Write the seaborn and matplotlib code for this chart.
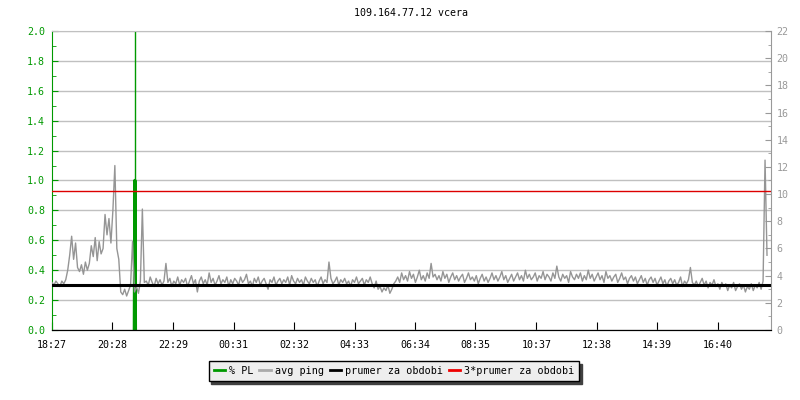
import numpy as np
import pandas as pd
import matplotlib
matplotlib.use("Agg")
import matplotlib.pyplot as plt
from matplotlib.ticker import MultipleLocator, FormatStrFormatter
import seaborn as sns

# ---- data ----
title = "109.164.77.12 vcera"
tick_minutes = [0, 121, 242, 364, 485, 606, 727, 848, 970, 1091, 1212, 1333]
tick_labels = ["18:27", "20:28", "22:29", "00:31", "02:32", "04:33",
               "06:34", "08:35", "10:37", "12:38", "14:39", "16:40"]

# avg ping [ms], evenly sampled over the day (right axis)
ping_ms = [
    3.5, 3.3, 3.6, 3.4, 3.2, 3.6, 3.4, 3.7,
    4.4, 5.5, 6.9, 5.2, 6.4, 4.6,
    4.3, 4.8, 4.1, 5.0, 4.4, 4.9,
    6.2, 5.4, 6.8, 5.1, 6.5, 5.6, 6.0,
    8.5, 7.0, 8.2, 6.4,
    8.8, 12.1, 6.0,
    5.2, 2.8,
    2.6, 3.0, 2.5, 2.9, 3.3, 6.5,
    2.8, 3.2, 2.7, 3.6, 8.9, 3.5,
    3.6, 3.3, 3.9, 3.5, 3.2, 3.8, 3.4, 3.7, 3.3, 3.6,
    4.9, 3.5, 3.8, 3.2, 3.6, 3.4, 3.9, 3.3, 3.7, 3.5,
    3.8, 3.2, 3.6, 4.0, 3.4, 3.7, 2.8, 3.6, 3.9, 3.4,
    3.7, 3.3, 4.2, 3.5, 3.8, 3.3, 3.6, 4.0, 3.4, 3.7,
    3.5, 3.9, 3.2, 3.7, 3.4, 3.8, 3.6, 3.3, 3.9, 3.5,
    3.7, 4.1, 3.4, 3.6, 3.2, 3.8, 3.5, 3.9, 3.3, 3.6,
    3.8, 3.4, 3.0, 3.7, 3.5, 3.9, 3.3, 3.6, 3.8, 3.4,
    3.7, 3.5, 3.9, 3.3, 4.0, 3.6, 3.4, 3.8, 3.5, 3.7,
    3.3, 3.9, 3.6, 3.4, 3.8, 3.5, 3.7, 3.2, 3.6, 3.9,
    3.4, 3.7, 3.5, 5.0, 3.8, 3.4, 3.6, 3.9, 3.3, 3.7,
    3.5, 3.8, 3.4, 3.6, 3.2, 3.7, 3.5, 3.9, 3.4, 3.6,
    3.8, 3.3, 3.7, 3.5, 3.9, 3.4, 3.1, 3.6,
    3.0, 3.2, 2.8, 3.1, 2.9, 3.3, 2.7, 3.0, 3.4, 3.6,
    3.9, 3.5, 4.2, 3.7, 4.0, 3.6, 4.3, 3.8, 4.1, 3.5,
    3.9, 4.4, 3.7, 4.0, 3.6, 4.2, 3.8, 4.9, 3.9, 4.1,
    3.7, 4.0, 3.6, 4.3, 3.8, 4.1, 3.5, 3.9, 4.2, 3.7,
    4.0, 3.6, 3.9, 4.1, 3.5, 3.8, 4.2, 3.7, 3.9, 3.6,
    4.0, 3.4, 3.8, 4.1, 3.6, 3.9, 3.5, 3.8, 4.2, 3.7,
    4.0, 3.6, 3.9, 4.3, 3.7, 4.0, 3.5, 3.8, 4.1, 3.6,
    3.9, 4.2, 3.7, 4.0, 3.6, 4.4, 3.8, 4.1, 3.7, 3.9,
    4.2, 3.6, 4.0, 3.8, 4.3, 3.7, 4.1, 3.9, 3.6, 4.2,
    3.8, 4.7, 3.9, 3.6, 4.1, 3.8, 4.0, 3.5, 4.3, 3.9,
    3.7, 4.1, 3.8, 4.2, 3.6, 4.0, 3.7, 4.4, 3.8, 4.1,
    3.6, 3.9, 4.2, 3.7, 4.0, 3.5, 4.3, 3.8, 4.0, 3.6,
    3.9, 4.1, 3.5, 3.8, 4.2, 3.7, 3.9, 3.4, 3.8, 4.0,
    3.6, 3.9, 3.4, 3.7, 4.0, 3.5, 3.8, 3.3, 3.7, 3.9,
    3.5, 3.8, 3.3, 3.6, 3.9, 3.4, 3.7, 3.2, 3.6, 3.8,
    3.4, 3.7, 3.3, 3.5, 3.9, 3.2, 3.6, 3.4, 3.7, 4.6,
    3.5, 3.3, 3.6, 3.2, 3.5, 3.8, 3.3, 3.6, 3.1, 3.5,
    3.3, 3.7, 3.2, 3.4, 3.0, 3.5, 3.2, 3.4, 2.9, 3.3,
    3.1, 3.5, 2.9, 3.2, 3.4, 3.0, 3.3, 2.8, 3.2, 3.0,
    3.4, 2.9, 3.3, 3.1, 3.5, 3.0, 3.6, 12.5, 5.5,
]
ping_last_minute = 1432

# packet loss (fraction, left axis)
pl_minutes = [165, 166, 167]
pl_values = [0.0, 1.0, 0.0]
outage_minute = 166

prumer = 3.3       # ms
prumer3 = 10.2     # ms

GREEN = "#009900"
GRAY = "#999999"
RED = "#dd0000"

plt.rcParams["font.family"] = ["DejaVu Sans Mono"]
plt.rcParams["font.size"] = 7.2

df_ping = pd.DataFrame({"t": np.linspace(0, ping_last_minute, len(ping_ms)),
                        "ping": ping_ms})
df_pl = pd.DataFrame({"t": pl_minutes, "pl": pl_values})

fig = plt.figure(figsize=(8, 4), dpi=100)
ax = fig.add_axes([52 / 800, 70 / 400, 719 / 800, 299 / 400])
ax2 = ax.twinx()

# left axis: % PL
ax.set_xlim(0, 1440)
ax.set_ylim(0, 2.0)
ax.yaxis.set_major_locator(MultipleLocator(0.2))
ax.yaxis.set_minor_locator(MultipleLocator(0.1))
ax.yaxis.set_major_formatter(FormatStrFormatter("%.1f"))
ax.yaxis.grid(True, color="#c0c0c0", lw=1)
ax.set_axisbelow(True)
ax.tick_params(axis="y", which="both", direction="in", colors=GREEN, pad=5)
ax.tick_params(axis="y", which="major", length=4)
ax.tick_params(axis="y", which="minor", length=3)
ax.set_xticks(tick_minutes)
ax.set_xticklabels(tick_labels)
ax.tick_params(axis="x", direction="in", length=6, color="black", pad=7)

sns.lineplot(data=df_pl, x="t", y="pl", ax=ax, color=GREEN, lw=2.4,
             estimator=None, legend=False)
ax.axvline(outage_minute, color=GREEN, lw=1)

# right axis: ping
ax2.set_ylim(0, 22)
ax2.yaxis.set_major_locator(MultipleLocator(2))
ax2.yaxis.set_minor_locator(MultipleLocator(1))
ax2.tick_params(axis="y", which="both", direction="in", colors=GRAY, pad=4)
ax2.tick_params(axis="y", which="major", length=4)
ax2.tick_params(axis="y", which="minor", length=2.5)

sns.lineplot(data=df_ping, x="t", y="ping", ax=ax2, color="#959595", lw=1.0,
             estimator=None, legend=False)
ax2.axhline(prumer, color="black", lw=2.2)
ax2.axhline(prumer3, color=RED, lw=1.0)

for a in (ax, ax2):
    a.set_xlabel("")
    a.set_ylabel("")
ax.spines["left"].set_color(GREEN)
ax.spines["right"].set_visible(False)
ax.spines["top"].set_color("#c0c0c0")
ax.spines["bottom"].set_color("black")
ax2.spines["left"].set_visible(False)
ax2.spines["top"].set_visible(False)
ax2.spines["right"].set_color(GRAY)
ax2.spines["bottom"].set_color("black")

fig.text(411 / 800, 1 - 13 / 400, title, ha="center", va="center", fontsize=7.2)

labels = ["% PL", "avg ping", "prumer za obdobi", "3*prumer za obdobi"]
leg_handles = [plt.Line2D([], [], color=c, lw=2) for c in (GREEN, "#aaaaaa", "black", "#ee0000")]
fig.legend(leg_handles, labels, loc="center", bbox_to_anchor=(394 / 800, 1 - 371 / 400),
           ncol=4, frameon=True, fancybox=False, shadow={"color": "#404040", "alpha": 1},
           facecolor="#eeeeee", edgecolor="black", framealpha=1, fontsize=7.3,
           handlelength=1.1, handletextpad=0.4, columnspacing=0.6, borderpad=0.5)

fig.savefig("out.png", dpi=100)
